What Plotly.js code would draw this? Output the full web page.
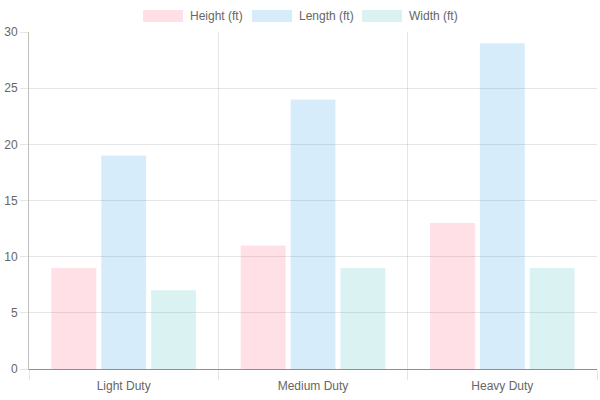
<!DOCTYPE html>
<html>
<head>
<meta charset="utf-8">
<script src="https://cdn.plot.ly/plotly-3.0.1.min.js"></script>
<style>
  html, body { margin: 0; padding: 0; background: #fff; }
  #chart { width: 600px; height: 400px; }
</style>
</head>
<body>
<div id="chart"></div>
<script>
var categories = ['Light Duty', 'Medium Duty', 'Heavy Duty'];
var seriesNames = ['Height (ft)', 'Length (ft)', 'Width (ft)'];
var heightFt = [9, 11, 13];
var lengthFt = [19, 24, 29];
var widthFt = [7, 9, 9];
var fills = ['rgba(255,99,132,0.2)', 'rgba(54,162,235,0.2)', 'rgba(75,192,192,0.2)'];

var values = [heightFt, lengthFt, widthFt];
var data = [];
for (let i = 0; i < values.length; i++) {
    data.push({
        x: categories,
        y: values[i],
        name: seriesNames[i],
        type: 'bar',
        marker: { color: fills[i], line: { width: 0 } },
        hoverinfo: 'none'
    });
}

// legend drawn by hand so the swatches get the wide chart.js look
var shapes = [];
var annotations = [];
var boxLeft = [143, 252, 362];
for (let i = 0; i < seriesNames.length; i++) {
    let x0 = (boxLeft[i] - 29) / 568;
    let x1 = (boxLeft[i] + 40 - 29) / 568;
    shapes.push({
        type: 'rect', xref: 'paper', yref: 'paper',
        x0: x0, x1: x1, y0: (369 - 22) / 337, y1: (369 - 10) / 337,
        fillcolor: fills[i], line: { width: 0 }
    });
    annotations.push({
        xref: 'paper', yref: 'paper',
        x: (boxLeft[i] + 45 - 29) / 568, y: (369 - 16) / 337,
        xanchor: 'left', yanchor: 'middle',
        text: seriesNames[i], showarrow: false,
        font: { size: 12, color: '#666' }
    });
}

var layout = {
    width: 600,
    height: 400,
    margin: { l: 29, r: 3, t: 32, b: 31 },
    font: { family: 'Liberation Sans, Arial, sans-serif', size: 12, color: '#666' },
    paper_bgcolor: '#fff',
    plot_bgcolor: '#fff',
    showlegend: false,
    barmode: 'group',
    bargap: 0.21,
    bargroupgap: 0.1,
    xaxis: {
        type: 'category',
        tickson: 'boundaries',
        ticks: 'outside',
        ticklen: 10,
        tickcolor: 'rgba(0,0,0,0.1)',
        ticklabelstandoff: 6,
        showgrid: true,
        gridcolor: 'rgba(0,0,0,0.1)',
        showline: true,
        linecolor: 'rgba(0,0,0,0.25)',
        fixedrange: true
    },
    yaxis: {
        range: [0, 30],
        dtick: 5,
        ticks: 'outside',
        ticklen: 8,
        tickcolor: 'rgba(0,0,0,0.1)',
        showgrid: true,
        gridcolor: 'rgba(0,0,0,0.1)',
        zeroline: true,
        zerolinecolor: 'rgba(0,0,0,0.25)',
        showline: true,
        linecolor: 'rgba(0,0,0,0.25)',
        fixedrange: true
    },
    shapes: shapes,
    annotations: annotations
};

Plotly.newPlot('chart', data, layout, { displayModeBar: false, staticPlot: true });
</script>
</body>
</html>
